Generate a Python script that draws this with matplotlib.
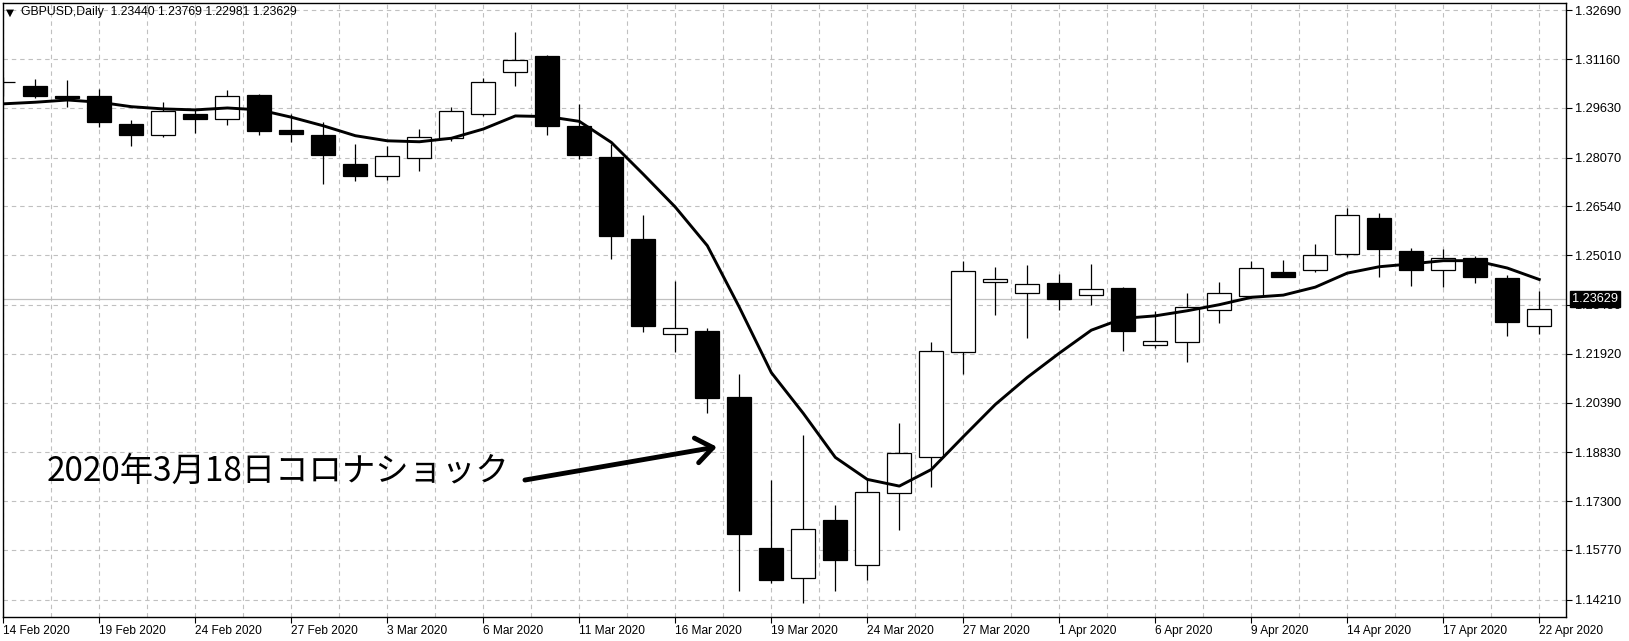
import numpy as np
import matplotlib
matplotlib.use("Agg")
import matplotlib.pyplot as plt
import matplotlib.transforms as mtransforms

# GBPUSD daily candles, 14 Feb 2020 .. 22 Apr 2020
opens = [1.3044, 1.3031, 1.3002, 1.2999, 1.2913, 1.2877, 1.2944, 1.2928, 1.3004, 1.2894,
         1.2879, 1.2786, 1.2749, 1.2807, 1.2868, 1.2944, 1.3075, 1.3126, 1.2907, 1.2809,
         1.2553, 1.2254, 1.2264, 1.2055, 1.1584, 1.1489, 1.1670, 1.1530, 1.1754, 1.1867,
         1.2199, 1.2416, 1.2382, 1.2415, 1.2376, 1.2399, 1.2219, 1.2229, 1.2329, 1.2373,
         1.2450, 1.2455, 1.2505, 1.2619, 1.2513, 1.2455, 1.2491, 1.2431, 1.2278]
highs = [1.3060, 1.3053, 1.3050, 1.3023, 1.2926, 1.2981, 1.2958, 1.3018, 1.3007, 1.2944,
         1.2918, 1.2849, 1.2843, 1.2897, 1.2967, 1.3056, 1.3200, 1.3129, 1.2976, 1.2849,
         1.2626, 1.2421, 1.2273, 1.2130, 1.1796, 1.1937, 1.1717, 1.1798, 1.1974, 1.2230,
         1.2484, 1.2465, 1.2471, 1.2442, 1.2474, 1.2403, 1.2327, 1.2383, 1.2418, 1.2484,
         1.2487, 1.2537, 1.2649, 1.2632, 1.2525, 1.2521, 1.2499, 1.2440, 1.2388]
lows = [1.3002, 1.2995, 1.2967, 1.2904, 1.2845, 1.2873, 1.2883, 1.2910, 1.2879, 1.2857,
        1.2723, 1.2735, 1.2737, 1.2765, 1.2858, 1.2939, 1.3032, 1.2879, 1.2802, 1.2489,
        1.2259, 1.2199, 1.2005, 1.1449, 1.1472, 1.1409, 1.1447, 1.1483, 1.1638, 1.1775,
        1.2130, 1.2315, 1.2241, 1.2329, 1.2346, 1.2201, 1.2210, 1.2165, 1.2287, 1.2367,
        1.2432, 1.2448, 1.2495, 1.2434, 1.2406, 1.2403, 1.2413, 1.2247, 1.2253]
closes = [1.3044, 1.3000, 1.2995, 1.2918, 1.2877, 1.2955, 1.2927, 1.3000, 1.2892, 1.2881,
          1.2814, 1.2751, 1.2812, 1.2871, 1.2952, 1.3046, 1.3113, 1.2908, 1.2815, 1.2561,
          1.2278, 1.2273, 1.2052, 1.1626, 1.1481, 1.1643, 1.1544, 1.1757, 1.1880, 1.2201,
          1.2453, 1.2425, 1.2411, 1.2363, 1.2395, 1.2265, 1.2232, 1.2339, 1.2383, 1.2461,
          1.2432, 1.2502, 1.2626, 1.2520, 1.2454, 1.2493, 1.2432, 1.2291, 1.2332]
# moving average line
ma = [1.2976, 1.2981, 1.2988, 1.2981, 1.2967, 1.2960, 1.2957, 1.2963, 1.2957, 1.2934,
      1.2907, 1.2876, 1.2860, 1.2857, 1.2868, 1.2897, 1.2938, 1.2936, 1.2921, 1.2855,
      1.2755, 1.2652, 1.2531, 1.2338, 1.2133, 1.2005, 1.1867, 1.1798, 1.1777, 1.1829,
      1.1932, 1.2033, 1.2118, 1.2194, 1.2266, 1.2303, 1.2311, 1.2327, 1.2346, 1.2369,
      1.2376, 1.2401, 1.2445, 1.2465, 1.2474, 1.2484, 1.2484, 1.2461, 1.2425]

date_labels = ["14 Feb 2020", "19 Feb 2020", "24 Feb 2020", "27 Feb 2020", "3 Mar 2020",
               "6 Mar 2020", "11 Mar 2020", "16 Mar 2020", "19 Mar 2020", "24 Mar 2020",
               "27 Mar 2020", "1 Apr 2020", "6 Apr 2020", "9 Apr 2020", "14 Apr 2020",
               "17 Apr 2020", "22 Apr 2020"]
price_labels = ["1.32690", "1.31160", "1.29630", "1.28070", "1.26540", "1.25010", "1.23450",
                "1.21920", "1.20390", "1.18830", "1.17300", "1.15770", "1.14210"]
last_price = 1.23629
header = "GBPUSD,Daily  1.23440 1.23769 1.22981 1.23629"
note = "2020年3月18日コロナショック"
note_xy = (1.35, 1.1822)
arrow_from = (16.3, 1.1796)
arrow_to = (22.3, 1.1900)

W, H = 1629, 641
fig = plt.figure(figsize=(W / 100, H / 100), dpi=100)
fig.patch.set_facecolor("white")
ax = fig.add_axes([3 / W, 24 / H, 1562.5 / W, 614.5 / H])

n = len(opens)
x = np.arange(n)
o = np.array(opens); c = np.array(closes); h = np.array(highs); l = np.array(lows)
up = c >= o

# grid
for v in np.arange(0, 50, 1.5):
    ax.axvline(v, color="#c0c0c0", lw=0.8, ls=(0, (4, 3.5)), zorder=0)
price_ticks = [float(s) for s in price_labels]
for v in price_ticks:
    ax.axhline(v, color="#c0c0c0", lw=0.8, ls=(0, (4, 3.5)), zorder=0)
ax.axhline(last_price, color="#c0c0c0", lw=0.9, zorder=0.5)

# candles
ax.vlines(x, l, h, color="black", lw=0.9, zorder=2)
bw = 0.75
body_lo = np.minimum(o, c)
body_h = np.maximum(np.abs(c - o), 0.00008)
ax.bar(x[up], body_h[up], bottom=body_lo[up], width=bw, facecolor="white",
       edgecolor="black", linewidth=0.9, zorder=3)
ax.bar(x[~up], body_h[~up], bottom=body_lo[~up], width=bw, facecolor="black",
       edgecolor="black", linewidth=0.9, zorder=3)

ax.plot(x, ma, color="black", lw=2.1, zorder=4, solid_joinstyle="round")

ax.set_xlim(-0.0125, 48.82)
ax.set_ylim(1.13664, 1.32938)

# axes / ticks
ax.yaxis.tick_right()
ax.set_yticks(price_ticks)
ax.set_yticklabels(price_labels, fontsize=9.2, family="Liberation Sans")
ax.set_xticks(np.arange(0, n, 3))
ax.set_xticklabels(date_labels, fontsize=8.6, family="Liberation Sans", ha="left")
ax.tick_params(axis="both", direction="out", length=4, width=0.8, pad=2, colors="black")
ax.tick_params(axis="y", pad=3)
for s in ax.spines.values():
    s.set_color("black")
    s.set_linewidth(1.0)

# current price tag
tr = mtransforms.blended_transform_factory(ax.transAxes, ax.transData)
ax.text(1.0039, last_price, "1.23629", transform=tr, ha="left", va="center",
        fontsize=9.2, family="Liberation Sans", color="white", clip_on=False, zorder=10,
        bbox=dict(facecolor="black", edgecolor="black", boxstyle="square,pad=0.15"))

# header
fig.text(6 / W, 1 - 12.5 / H, "▼", fontsize=7.5, va="center", ha="left", family="DejaVu Sans")
fig.text(21 / W, 1 - 12.5 / H, header, fontsize=8.8, va="center", ha="left",
         family="Liberation Sans")

# annotation
ax.text(note_xy[0], note_xy[1], note, fontsize=24, ha="left", va="center",
        family=["Noto Sans CJK JP", "DejaVu Sans"], zorder=6)
ax.annotate("", xy=arrow_to, xytext=arrow_from,
            arrowprops=dict(arrowstyle="->,head_length=0.6,head_width=0.45",
                            lw=3.5, color="black", shrinkA=0, shrinkB=0,
                            mutation_scale=20), zorder=6)

fig.savefig("out.png", dpi=100)
